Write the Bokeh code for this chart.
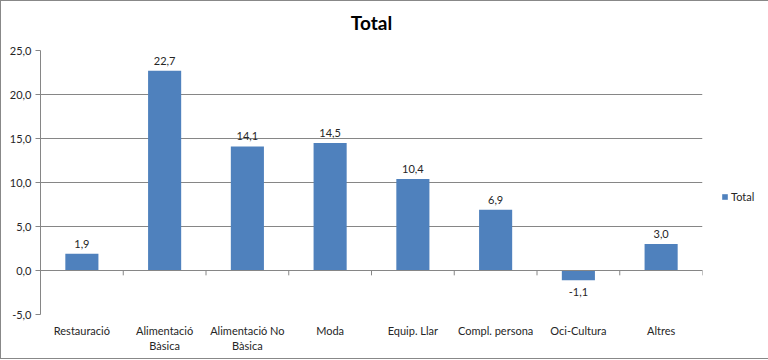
from bokeh.plotting import figure
from bokeh.models import ColumnDataSource, FactorRange, Range1d, Span, Legend, LegendItem, FixedTicker, Title
from bokeh.embed import file_html
from bokeh.resources import INLINE
from bokeh.core.properties import value

categories = ["Restauració", "Alimentació\nBàsica", "Alimentació No\nBàsica", "Moda",
              "Equip. Llar", "Compl. persona", "Oci-Cultura", "Altres"]
values = [1.9, 22.7, 14.1, 14.5, 10.4, 6.9, -1.1, 3.0]
y_ticks = [-5, 0, 5, 10, 15, 20, 25]
y_tick_labels = ["-5,0", "0,0", "5,0", "10,0", "15,0", "20,0", "25,0"]
series_name = "Total"

FONT = "Lato"
TEXT = "#262626"
GRID = "#868686"
BAR = "#4F81BD"

labels = [f"{v:.1f}".replace(".", ",") for v in values]
pos_idx = [i for i, v in enumerate(values) if v >= 0]
neg_idx = [i for i, v in enumerate(values) if v < 0]

src = ColumnDataSource(dict(x=categories, top=values, lab=labels))
src_pos = ColumnDataSource(dict(x=[categories[i] for i in pos_idx], y=[values[i] for i in pos_idx],
                                lab=[labels[i] for i in pos_idx]))
src_neg = ColumnDataSource(dict(x=[categories[i] for i in neg_idx], y=[values[i] for i in neg_idx],
                                lab=[labels[i] for i in neg_idx]))

FW, FH = 662, 264
p = figure(x_range=FactorRange(*categories, range_padding=0), y_range=Range1d(y_ticks[0], y_ticks[-1]),
           frame_width=FW, frame_height=FH, output_backend="svg", toolbar_location=None, title=None,
           min_border_left=39, min_border_right=65, min_border_bottom=44, min_border_top=0)
p.styles = {"border": "1px solid #888888"}

# spacer between frame and title, then the title itself
spacer = Title(text=" ", text_font_size="1px", standoff=3)
p.add_layout(spacer, "above")
title = Title(text=series_name, align="center", vertical_align="top", text_font=FONT,
              text_font_size="19px", text_font_style="bold", text_color="#000000", standoff=18)
p.add_layout(title, "above")

p.outline_line_color = None
p.xgrid.grid_line_color = None
p.ygrid.grid_line_color = GRID
p.ygrid.grid_line_width = 1

p.yaxis.ticker = FixedTicker(ticks=y_ticks)
p.yaxis.major_label_overrides = {t: l for t, l in zip(y_ticks, y_tick_labels)}
p.yaxis.axis_line_color = GRID
p.yaxis.major_tick_line_color = GRID
p.yaxis.major_tick_out = 5
p.yaxis.major_tick_in = 0
p.yaxis.minor_tick_line_color = None
p.yaxis.major_label_text_font = FONT
p.yaxis.major_label_text_font_size = "11px"
p.yaxis.major_label_text_color = TEXT
p.yaxis.major_label_standoff = 4

p.xaxis.axis_line_color = None
p.xaxis.major_tick_line_color = None
p.xaxis.major_tick_out = 0
p.xaxis.major_tick_in = 0
p.xaxis.major_label_text_font = FONT
p.xaxis.major_label_text_font_size = "11px"
p.xaxis.major_label_text_color = TEXT
p.xaxis.major_label_standoff = 9

bars = p.vbar(x="x", top="top", bottom=0, width=0.4, source=src, fill_color=BAR, line_color=None)

# horizontal category axis at zero with tick marks between categories
p.add_layout(Span(location=0, dimension="width", line_color=GRID, line_width=1))
bounds = list(range(len(categories) + 1))
p.segment(x0=bounds, y0=[0] * len(bounds), x1=bounds, y1=[-0.55] * len(bounds), line_color=GRID, line_width=1)

p.text(x="x", y="y", text="lab", source=src_pos, text_align="center", text_baseline="bottom",
       y_offset=-6, text_font=value(FONT), text_font_size="11px", text_color=TEXT)
p.text(x="x", y="y", text="lab", source=src_neg, text_align="center", text_baseline="top",
       y_offset=8, text_font=value(FONT), text_font_size="11px", text_color=TEXT)

legend = Legend(items=[LegendItem(label=series_name, renderers=[bars])], location=(19, 111),
                border_line_color=None, background_fill_alpha=0,
                label_text_font=FONT, label_text_font_size="11px", label_text_color=TEXT,
                glyph_width=7, glyph_height=7, label_standoff=3, padding=4, margin=0)
p.add_layout(legend, "right")

open("out.html", "w").write(file_html(p, INLINE))
